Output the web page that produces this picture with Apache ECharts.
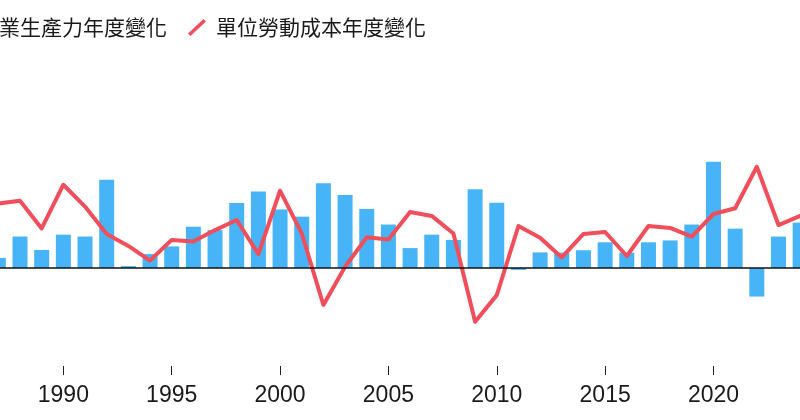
<!DOCTYPE html>
<html>
<head>
<meta charset="utf-8">
<script src="https://cdn.jsdelivr.net/npm/echarts@6/dist/echarts.min.js"></script>
<style>
html,body{margin:0;padding:0;width:800px;height:420px;overflow:hidden;background:#fff;}
#chart{position:absolute;left:-100px;top:0;width:1000px;height:420px;}
</style>
</head>
<body>
<div id="chart"></div>
<script>
const years = ['1987','1988','1989','1990','1991','1992','1993','1994','1995','1996','1997','1998','1999','2000','2001','2002','2003','2004','2005','2006','2007','2008','2009','2010','2011','2012','2013','2014','2015','2016','2017','2018','2019','2020','2021','2022','2023','2024'];
const productivity = [0.42,1.31,0.75,1.39,1.31,3.68,0.08,0.58,0.90,1.72,1.58,2.71,3.19,2.44,2.14,3.53,3.04,2.46,1.81,0.83,1.39,1.17,3.28,2.72,-0.08,0.65,0.64,0.74,1.07,0.64,1.07,1.15,1.81,4.43,1.64,-1.19,1.31,1.89];
const unitLaborCost = [2.69,2.80,1.65,3.47,2.56,1.42,0.92,0.31,1.17,1.10,1.58,2.00,0.58,3.22,1.44,-1.54,0.05,1.28,1.19,2.33,2.17,1.44,-2.24,-1.13,1.75,1.26,0.44,1.42,1.50,0.50,1.75,1.67,1.31,2.25,2.49,4.22,1.79,2.17];
const seriesNames = ['非農業生產力年度變化','單位勞動成本年度變化'];

const chart = echarts.init(document.getElementById('chart'), null, {renderer:'canvas'});
const every5 = (idx, val) => Number(val) % 5 === 0;
chart.setOption({
  animation:false,
  legend:{
    left:24, top:12,
    itemWidth:18, itemHeight:17, itemGap:21,
    textStyle:{fontSize:21, color:'#1a1a1a', fontFamily:'Noto Sans CJK TC', padding:[0,0,0,5]},
    data:[
      {name:seriesNames[0], icon:'rect'},
      {name:seriesNames[1], icon:'path://M0,14.5 L15.5,0 L18,2.5 L2.5,17 Z'}
    ]
  },
  grid:{left:87.5, right:89, top:64, bottom:56},
  xAxis:{
    type:'category', data:years, boundaryGap:true, offset:2,
    axisLine:{show:false, onZero:false},
    axisTick:{show:true, alignWithLabel:true, interval:every5, length:9, lineStyle:{color:'#222', width:1}},
    axisLabel:{interval:every5, fontSize:23, color:'#1a1a1a', margin:18, fontFamily:'Liberation Sans Narrow, Liberation Sans, sans-serif'},
    splitLine:{show:false}
  },
  yAxis:{type:'value', min:-4, max:8.5, show:false, splitLine:{show:false}},
  series:[
    {
      name:seriesNames[0], type:'bar', data:productivity, barWidth:15,
      itemStyle:{color:'#47b4f7'},
      markLine:{silent:true, symbol:['none','none'], label:{show:false},
        lineStyle:{color:'#111', width:1.5, type:'solid'},
        data:[{yAxis:0}]}
    },
    {
      name:seriesNames[1], type:'line', data:unitLaborCost, symbol:'none',
      lineStyle:{color:'#f04e5a', width:4, join:'round', cap:'round'},
      itemStyle:{color:'#f04e5a'}, z:3
    }
  ]
});
</script>
</body>
</html>
